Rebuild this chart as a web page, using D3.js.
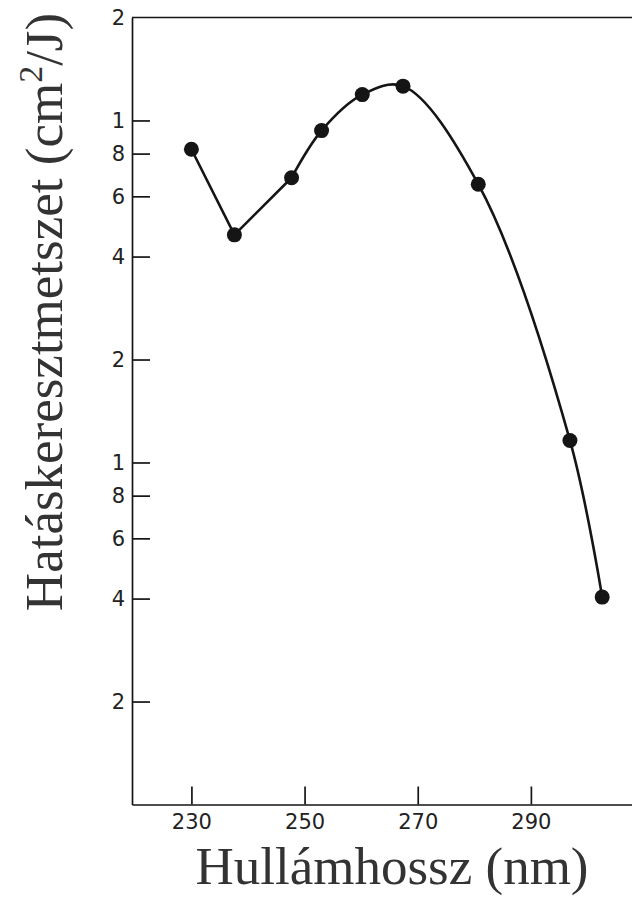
<!DOCTYPE html>
<html>
<head>
<meta charset="utf-8">
<script src="https://cdn.jsdelivr.net/npm/d3@7"></script>
<style>
  html, body { margin: 0; padding: 0; background: #fff; }
  svg { display: block; }
</style>
</head>
<body>
<svg id="chart" width="632" height="897"></svg>
<script>
// measured points (wavelength nm, action cross-section)
const wavelengths = [230, 237.6, 247.7, 253, 260.2, 267.4, 280.7, 296.9, 302.6];
const crossSections = [8.24, 4.63, 6.8, 9.34, 11.9, 12.6, 6.51, 1.16, 0.404];

const xTicks = [230, 250, 270, 290];
const yTicks = [20, 10, 8, 6, 4, 2, 1, 0.8, 0.6, 0.4, 0.2];
const yTickLabels = ["2", "1", "8", "6", "4", "2", "1", "8", "6", "4", "2"];

const svg = d3.select("#chart");

//frame edges
const plotLeft = 132, plotTop = 17.5, plotBottom = 804.5;

const x = d3.scaleLinear()
  .domain([219.5, 310])
  .range([plotLeft, plotLeft + 90.5 * 5.658]);

const y = d3.scaleLog()
  .domain([0.1, 20])
  .range([plotBottom, plotTop]);

const ink = "#151515";

//y axis, ticks pointing inward
const yAxis = svg.append("g")
  .attr("transform", `translate(${plotLeft},0)`)
  .call(d3.axisLeft(y)
    .tickValues(yTicks)
    .tickSizeInner(-18)
    .tickSizeOuter(0)
    .tickPadding(7)
    .tickFormat((d, i) => yTickLabels[i]));

yAxis.select(".domain").attr("stroke", ink).attr("stroke-width", 1.7);
yAxis.selectAll(".tick line").attr("stroke", ink).attr("stroke-width", 1.7);
yAxis.selectAll(".tick").filter(d => d === 20).select("line").remove();
yAxis.selectAll(".tick text")
  .attr("font-family", "DejaVu Sans, sans-serif")
  .attr("font-size", 21)
  .attr("fill", "#222");

//x axis
const xAxis = svg.append("g")
  .attr("transform", `translate(0,${plotBottom})`)
  .call(d3.axisBottom(x)
    .tickValues(xTicks)
    .tickSizeInner(-18)
    .tickSizeOuter(0)
    .tickPadding(10));

xAxis.select(".domain").attr("stroke", ink).attr("stroke-width", 1.7);
xAxis.selectAll(".tick line").attr("stroke", ink).attr("stroke-width", 1.7);
xAxis.selectAll(".tick text")
  .attr("font-family", "DejaVu Sans, sans-serif")
  .attr("font-size", 21)
  .attr("fill", "#222");

//top border
svg.append("line")
  .attr("x1", plotLeft).attr("x2", x.range()[1])
  .attr("y1", plotTop).attr("y2", plotTop)
  .attr("stroke", ink)
  .attr("stroke-width", 1.7);

const pts = wavelengths.map((w, i) => [w, crossSections[i]]);

//straight part: first three points
svg.append("path")
  .datum(pts.slice(0, 3))
  .attr("fill", "none")
  .attr("stroke", ink)
  .attr("stroke-width", 2.6)
  .attr("d", d3.line().x(d => x(d[0])).y(d => y(d[1])));

//smooth part
svg.append("path")
  .datum(pts.slice(2))
  .attr("fill", "none")
  .attr("stroke", ink)
  .attr("stroke-width", 2.6)
  .attr("d", d3.line().x(d => x(d[0])).y(d => y(d[1])).curve(d3.curveCatmullRom.alpha(0.5)));

//points
svg.selectAll("circle.pt")
  .data(pts)
  .join("circle")
  .attr("class", "pt")
  .attr("cx", d => x(d[0]))
  .attr("cy", d => y(d[1]))
  .attr("r", 7.5)
  .attr("fill", ink);

//axis titles
svg.append("text")
  .attr("x", 392)
  .attr("y", 884)
  .attr("text-anchor", "middle")
  .attr("font-family", "Liberation Serif, Times New Roman, serif")
  .attr("font-size", 53)
  .attr("fill", "#333")
  .text("Hullámhossz (nm)");

const yTitle = svg.append("text")
  .attr("transform", "translate(62,312) rotate(-90)")
  .attr("text-anchor", "middle")
  .attr("font-family", "Liberation Serif, Times New Roman, serif")
  .attr("font-size", 53)
  .attr("fill", "#333");
yTitle.append("tspan").text("Hatáskeresztmetszet (cm");
yTitle.append("tspan").attr("dy", -20).attr("font-size", 34).text("2");
yTitle.append("tspan").attr("dy", 20).text("/J)");
</script>
</body>
</html>
